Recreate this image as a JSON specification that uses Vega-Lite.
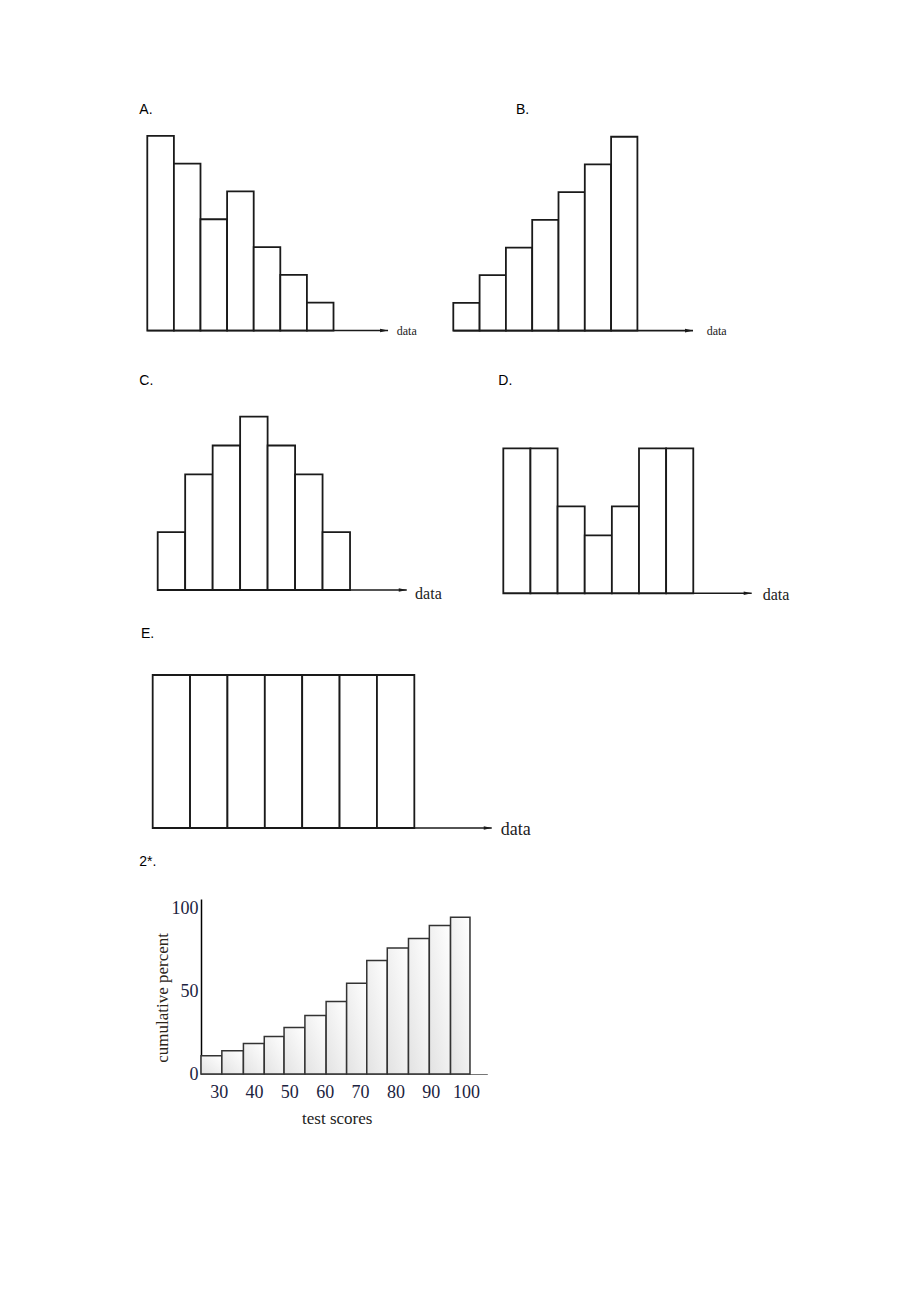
{
  "$schema": "https://vega.github.io/schema/vega-lite/v6.json",
  "background": "white",
  "padding": {"left": 130, "top": 98, "right": 5, "bottom": 5},
  "autosize": {"type": "pad"},
  "config": {"view": {"stroke": null}},
  "columns": 2,
  "spacing": {"row": 25, "column": 10},
  "bounds": "flush",
  "align": {"row": "each", "column": "each"},
  "datasets": {
    "histA": [
      {"lo": 0, "hi": 1, "count": 7}, {"lo": 1, "hi": 2, "count": 6}, {"lo": 2, "hi": 3, "count": 4},
      {"lo": 3, "hi": 4, "count": 5}, {"lo": 4, "hi": 5, "count": 3}, {"lo": 5, "hi": 6, "count": 2},
      {"lo": 6, "hi": 7, "count": 1}
    ],
    "histB": [
      {"lo": 0, "hi": 1, "count": 1}, {"lo": 1, "hi": 2, "count": 2}, {"lo": 2, "hi": 3, "count": 3},
      {"lo": 3, "hi": 4, "count": 4}, {"lo": 4, "hi": 5, "count": 5}, {"lo": 5, "hi": 6, "count": 6},
      {"lo": 6, "hi": 7, "count": 7}
    ],
    "histC": [
      {"lo": 0, "hi": 1, "count": 2}, {"lo": 1, "hi": 2, "count": 4}, {"lo": 2, "hi": 3, "count": 5},
      {"lo": 3, "hi": 4, "count": 6}, {"lo": 4, "hi": 5, "count": 5}, {"lo": 5, "hi": 6, "count": 4},
      {"lo": 6, "hi": 7, "count": 2}
    ],
    "histD": [
      {"lo": 0, "hi": 1, "count": 5}, {"lo": 1, "hi": 2, "count": 5}, {"lo": 2, "hi": 3, "count": 3},
      {"lo": 3, "hi": 4, "count": 2}, {"lo": 4, "hi": 5, "count": 3}, {"lo": 5, "hi": 6, "count": 5},
      {"lo": 6, "hi": 7, "count": 5}
    ],
    "histE": [
      {"lo": 0, "hi": 1, "count": 5}, {"lo": 1, "hi": 2, "count": 5}, {"lo": 2, "hi": 3, "count": 5},
      {"lo": 3, "hi": 4, "count": 5}, {"lo": 4, "hi": 5, "count": 5}, {"lo": 5, "hi": 6, "count": 5},
      {"lo": 6, "hi": 7, "count": 5}
    ],
    "scores": [
      {"lo": 25, "hi": 30.9, "pct": 11.1}, {"lo": 30.9, "hi": 37, "pct": 14.1},
      {"lo": 37, "hi": 42.9, "pct": 18.5}, {"lo": 42.9, "hi": 48.5, "pct": 22.7},
      {"lo": 48.5, "hi": 54.4, "pct": 28.2}, {"lo": 54.4, "hi": 60.4, "pct": 35.5},
      {"lo": 60.4, "hi": 66.2, "pct": 43.9}, {"lo": 66.2, "hi": 71.9, "pct": 55},
      {"lo": 71.9, "hi": 77.7, "pct": 68.8}, {"lo": 77.7, "hi": 83.7, "pct": 76.3},
      {"lo": 83.7, "hi": 89.6, "pct": 82}, {"lo": 89.6, "hi": 95.6, "pct": 90},
      {"lo": 95.6, "hi": 101.1, "pct": 94.9}
    ],
    "one": [{"label": "data"}]
  },
  "concat": [
    {
      "width": 61, "height": 247,
      "title": {"text": "A.", "anchor": "start", "frame": "group", "orient": "top", "font": "Liberation Sans", "fontSize": 14, "fontWeight": "normal", "color": "#000", "baseline": "alphabetic", "offset": -30.3, "dx": 9.3},
      "layer": [
        {"data": {"name": "histA"}, "mark": {"type": "rect", "fill": "white", "stroke": "#1a1a1a", "strokeWidth": 1.8},
         "encoding": {
           "x": {"field": "lo", "type": "quantitative", "scale": {"domain": [-0.65, 1.643], "nice": false, "zero": false}, "axis": null},
           "x2": {"field": "hi"},
           "y": {"field": "count", "type": "quantitative", "scale": {"domain": [-0.52, 8.36], "nice": false, "zero": false}, "axis": null},
           "y2": {"datum": 0}}},
        {"data": {"name": "one"}, "mark": {"type": "rule", "stroke": "#1a1a1a", "strokeWidth": 1.6},
         "encoding": {"x": {"datum": 0}, "x2": {"datum": 9.05}, "y": {"datum": 0}}},
        {"data": {"name": "one"}, "mark": {"type": "point", "shape": "M -1 -0.45 L 1 0 L -1 0.45 Z", "size": 64, "filled": true, "color": "#1a1a1a", "opacity": 1, "xOffset": -4},
         "encoding": {"x": {"datum": 9.05}, "y": {"datum": 0}}},
        {"data": {"name": "one"}, "mark": {"type": "text", "font": "Liberation Serif", "fontSize": 12, "align": "left", "baseline": "alphabetic", "dy": 4.5, "color": "#222"},
         "encoding": {"x": {"datum": 9.376}, "y": {"datum": 0}, "text": {"field": "label"}}}
      ]
    },
    {
      "width": 594, "height": 247,
      "title": {"text": "B.", "anchor": "start", "frame": "group", "orient": "top", "font": "Liberation Sans", "fontSize": 14, "fontWeight": "normal", "color": "#000", "baseline": "alphabetic", "offset": -30.3, "dx": 315},
      "layer": [
        {"data": {"name": "histB"}, "mark": {"type": "rect", "fill": "white", "stroke": "#1a1a1a", "strokeWidth": 1.8},
         "encoding": {
           "x": {"field": "lo", "type": "quantitative", "scale": {"domain": [-9.593, 12.992], "nice": false, "zero": false}, "axis": null},
           "x2": {"field": "hi"},
           "y": {"field": "count", "type": "quantitative", "scale": {"domain": [-0.52, 8.4], "nice": false, "zero": false}, "axis": null},
           "y2": {"datum": 0}}},
        {"data": {"name": "one"}, "mark": {"type": "rule", "stroke": "#1a1a1a", "strokeWidth": 1.6},
         "encoding": {"x": {"datum": 0}, "x2": {"datum": 9.114}, "y": {"datum": 0}}},
        {"data": {"name": "one"}, "mark": {"type": "point", "shape": "M -1 -0.45 L 1 0 L -1 0.45 Z", "size": 64, "filled": true, "color": "#1a1a1a", "opacity": 1, "xOffset": -4},
         "encoding": {"x": {"datum": 9.114}, "y": {"datum": 0}}},
        {"data": {"name": "one"}, "mark": {"type": "text", "font": "Liberation Serif", "fontSize": 12, "align": "left", "baseline": "alphabetic", "dy": 4.3, "color": "#222"},
         "encoding": {"x": {"datum": 9.635}, "y": {"datum": 0}, "text": {"field": "label"}}}
      ]
    },
    {
      "width": 61, "height": 235,
      "title": {"text": "C.", "anchor": "start", "frame": "group", "orient": "top", "font": "Liberation Sans", "fontSize": 14, "fontWeight": "normal", "color": "#000", "baseline": "alphabetic", "offset": -28.8, "dx": 9.3},
      "layer": [
        {"data": {"name": "histC"}, "mark": {"type": "rect", "fill": "white", "stroke": "#1a1a1a", "strokeWidth": 1.8},
         "encoding": {
           "x": {"field": "lo", "type": "quantitative", "scale": {"domain": [-1.008, 1.212], "nice": false, "zero": false}, "axis": null},
           "x2": {"field": "hi"},
           "y": {"field": "count", "type": "quantitative", "scale": {"domain": [-0.519, 7.612], "nice": false, "zero": false}, "axis": null},
           "y2": {"datum": 0}}},
        {"data": {"name": "one"}, "mark": {"type": "rule", "stroke": "#1a1a1a", "strokeWidth": 1.6},
         "encoding": {"x": {"datum": 0}, "x2": {"datum": 9.064}, "y": {"datum": 0}}},
        {"data": {"name": "one"}, "mark": {"type": "point", "shape": "M -1 -0.45 L 1 0 L -1 0.45 Z", "size": 64, "filled": true, "color": "#1a1a1a", "opacity": 1, "xOffset": -4},
         "encoding": {"x": {"datum": 9.064}, "y": {"datum": 0}}},
        {"data": {"name": "one"}, "mark": {"type": "text", "font": "Liberation Serif", "fontSize": 16, "align": "left", "baseline": "alphabetic", "dy": 8.5, "color": "#222"},
         "encoding": {"x": {"datum": 9.367}, "y": {"datum": 0}, "text": {"field": "label"}}}
      ]
    },
    {
      "width": 594, "height": 235,
      "title": {"text": "D.", "anchor": "start", "frame": "group", "orient": "top", "font": "Liberation Sans", "fontSize": 14, "fontWeight": "normal", "color": "#000", "baseline": "alphabetic", "offset": -28.8, "dx": 297.3},
      "layer": [
        {"data": {"name": "histD"}, "mark": {"type": "rect", "fill": "white", "stroke": "#1a1a1a", "strokeWidth": 1.8},
         "encoding": {
           "x": {"field": "lo", "type": "quantitative", "scale": {"domain": [-11.139, 10.748], "nice": false, "zero": false}, "axis": null},
           "x2": {"field": "hi"},
           "y": {"field": "count", "type": "quantitative", "scale": {"domain": [-0.403, 7.7], "nice": false, "zero": false}, "axis": null},
           "y2": {"datum": 0}}},
        {"data": {"name": "one"}, "mark": {"type": "rule", "stroke": "#1a1a1a", "strokeWidth": 1.6},
         "encoding": {"x": {"datum": 0}, "x2": {"datum": 9.152}, "y": {"datum": 0}}},
        {"data": {"name": "one"}, "mark": {"type": "point", "shape": "M -1 -0.45 L 1 0 L -1 0.45 Z", "size": 64, "filled": true, "color": "#1a1a1a", "opacity": 1, "xOffset": -4},
         "encoding": {"x": {"datum": 9.152}, "y": {"datum": 0}}},
        {"data": {"name": "one"}, "mark": {"type": "text", "font": "Liberation Serif", "fontSize": 16, "align": "left", "baseline": "alphabetic", "dy": 6.7, "color": "#222"},
         "encoding": {"x": {"datum": 9.557}, "y": {"datum": 0}, "text": {"field": "label"}}}
      ]
    },
    {
      "width": 61, "height": 243.3,
      "title": {"text": "E.", "anchor": "start", "frame": "group", "orient": "top", "font": "Liberation Sans", "fontSize": 14, "fontWeight": "normal", "color": "#000", "baseline": "alphabetic", "offset": -21.8, "dx": 11},
      "layer": [
        {"data": {"name": "histE"}, "mark": {"type": "rect", "fill": "white", "stroke": "#1a1a1a", "strokeWidth": 1.8},
         "encoding": {
           "x": {"field": "lo", "type": "quantitative", "scale": {"domain": [-0.607, 1.025], "nice": false, "zero": false}, "axis": null},
           "x2": {"field": "hi"},
           "y": {"field": "count", "type": "quantitative", "scale": {"domain": [-1.48, 6.47], "nice": false, "zero": false}, "axis": null},
           "y2": {"datum": 0}}},
        {"data": {"name": "one"}, "mark": {"type": "rule", "stroke": "#1a1a1a", "strokeWidth": 1.6},
         "encoding": {"x": {"datum": 0}, "x2": {"datum": 9.071}, "y": {"datum": 0}}},
        {"data": {"name": "one"}, "mark": {"type": "point", "shape": "M -1 -0.45 L 1 0 L -1 0.45 Z", "size": 64, "filled": true, "color": "#1a1a1a", "opacity": 1, "xOffset": -4},
         "encoding": {"x": {"datum": 9.071}, "y": {"datum": 0}}},
        {"data": {"name": "one"}, "mark": {"type": "text", "font": "Liberation Serif", "fontSize": 18, "align": "left", "baseline": "alphabetic", "dy": 7, "color": "#222"},
         "encoding": {"x": {"datum": 9.312}, "y": {"datum": 0}, "text": {"field": "label"}}}
      ]
    },
    {
      "width": 10, "height": 10,
      "data": {"name": "one"},
      "mark": {"type": "point", "opacity": 0}
    },
    {
      "width": 61, "height": 10,
      "data": {"name": "one"},
      "mark": {"type": "point", "opacity": 0}
    },
    {
      "width": 286.3, "height": 175,
      "title": {"text": "2*.", "anchor": "start", "frame": "group", "orient": "top", "font": "Liberation Sans", "fontSize": 14, "fontWeight": "normal", "color": "#000", "baseline": "alphabetic", "offset": 19.3, "dx": -61.7},
      "data": {"name": "scores"},
      "mark": {"type": "rect", "stroke": "#333", "strokeWidth": 1.5,
        "fill": {"gradient": "linear", "x1": 0, "y1": 1, "x2": 1, "y2": 0, "stops": [{"offset": 0, "color": "#e2e2e2"}, {"offset": 1, "color": "#ffffff"}]}},
      "encoding": {
        "x": {"field": "lo", "type": "quantitative", "scale": {"domain": [25, 106], "nice": false, "zero": false},
          "axis": {"values": [30, 40, 50, 60, 70, 80, 90, 100], "ticks": false, "grid": false, "labelFlush": false, "labelOverlap": false,
            "labelFont": "Liberation Serif", "labelFontSize": 18, "labelColor": "#1c2340", "labelPadding": 9, "labelBaseline": "top",
            "domainColor": "#777", "domainWidth": 1,
            "title": "test scores", "titleFont": "Liberation Serif", "titleFontSize": 17, "titleFontWeight": "normal", "titleColor": "#222",
            "titleX": 135.7, "titleY": 49.5, "titleAlign": "center", "titleBaseline": "alphabetic"}},
        "x2": {"field": "hi"},
        "y": {"field": "pct", "type": "quantitative", "scale": {"domain": [0, 106], "nice": false, "zero": false},
          "axis": {"values": [0, 50, 100], "ticks": false, "grid": false, "labelOverlap": false,
            "labelFont": "Liberation Serif", "labelFontSize": 18, "labelColor": "#1c2340", "labelPadding": 3, "labelBaseline": "middle",
            "domainColor": "#000", "domainWidth": 1.5,
            "title": "cumulative percent", "titleFont": "Liberation Serif", "titleFontSize": 17, "titleFontWeight": "normal", "titleColor": "#2b2418",
            "titleX": -39, "titleY": 98.4, "titleAngle": -90, "titleAlign": "center", "titleBaseline": "middle"}},
        "y2": {"datum": 0}
      }
    }
  ]
}
